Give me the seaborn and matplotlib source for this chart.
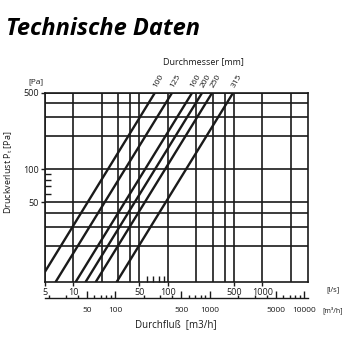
import numpy as np
import pandas as pd
import matplotlib
matplotlib.use("Agg")
import matplotlib.pyplot as plt
import seaborn as sns
from matplotlib.ticker import FixedLocator, FixedFormatter, NullFormatter

# ---- data ----
diameters = ["100", "125", "160", "200", "250", "315"]
flow_low = [5.0, 6.5, 10.6, 13.5, 17.3, 28.8]        # l/s at lower end
pressure_low = [11.6, 9.4, 9.4, 9.4, 9.4, 9.4]       # Pa at lower end
flow_high = [73, 111, 181, 231, 295, 492]            # l/s at 500 Pa
pressure_high = [500, 500, 500, 500, 500, 500]       # Pa

flow_major = [5, 10, 20, 30, 40, 50, 100, 200, 300, 400, 500, 1000, 2000]
flow_labels = ["5", "10", "", "", "", "50", "100", "", "", "", "500", "1000", ""]
flow_minor = [60, 70, 80, 90]
pressure_major = [20, 30, 40, 50, 100, 200, 300, 400, 500]
pressure_labels = ["", "", "", "50", "100", "", "", "", "500"]
pressure_minor = [60, 70, 80, 90]
m3h_major = [50, 100, 500, 1000, 5000, 10000]
m3h_labels = ["50", "100", "500", "1000", "5000", "10000"]
m3h_minor = [20, 30, 40, 60, 70, 80, 90, 200, 300, 400, 600, 700, 800, 900,
             2000, 3000, 4000, 6000, 7000, 8000, 9000]

rows = []
for d, f0, p0, f1, p1 in zip(diameters, flow_low, pressure_low, flow_high, pressure_high):
    rows.append({"d": d, "flow": f0, "pressure": p0})
    rows.append({"d": d, "flow": f1, "pressure": p1})
df = pd.DataFrame(rows)

sns.set_style("white")
plt.rcParams["font.family"] = ["Open Sans", "DejaVu Sans"]
ink = "#1a1a1a"

W = H = 350
fig = plt.figure(figsize=(3.5, 3.5), dpi=100)

def fx(px):
    return px / W

def fy(py):
    return 1 - py / H

ax = fig.add_axes([fx(45), fy(281.7), fx(308) - fx(45), fy(92.7) - fy(281.7)])
ax.set_xscale("log")
ax.set_yscale("log")
ax.set_xlim(5, 3050)
ax.set_ylim(9.4, 500)

sns.lineplot(data=df, x="flow", y="pressure", hue="d", units="d",
             palette=[ink] * len(diameters), estimator=None, sort=False,
             legend=False, lw=1.7, ax=ax, clip_on=True)

ax.xaxis.set_major_locator(FixedLocator(flow_major))
ax.xaxis.set_major_formatter(FixedFormatter(flow_labels))
ax.xaxis.set_minor_locator(FixedLocator(flow_minor))
ax.xaxis.set_minor_formatter(NullFormatter())
ax.yaxis.set_major_locator(FixedLocator(pressure_major))
ax.yaxis.set_major_formatter(FixedFormatter(pressure_labels))
ax.yaxis.set_minor_locator(FixedLocator(pressure_minor))
ax.yaxis.set_minor_formatter(NullFormatter())

ax.grid(True, which="major", color=ink, lw=1.2)
ax.tick_params(which="both", bottom=True, left=True, top=False, right=False)
ax.tick_params(which="major", direction="out", length=3, width=1.0, color=ink,
               labelsize=6.5, labelcolor=ink, pad=1.5)
ax.tick_params(which="minor", direction="in", length=4, width=1.0, color=ink)
# outward tick marks only where a label sits
for tick, lab in zip(ax.xaxis.get_major_ticks(), flow_labels):
    if not lab:
        tick.tick1line.set_visible(False)
for tick, lab in zip(ax.yaxis.get_major_ticks(), pressure_labels):
    if not lab:
        tick.tick1line.set_visible(False)
for s in ax.spines.values():
    s.set_color(ink)
    s.set_linewidth(1.2)
ax.set_xlabel("")
ax.set_ylabel("")

# diameter labels at the top ends of the lines
for d, f1, p1 in zip(diameters, flow_high, pressure_high):
    ax.annotate(d, xy=(f1, p1), xytext=(2, 3), textcoords="offset points",
                rotation=60, rotation_mode="anchor", ha="left", va="bottom",
                fontsize=6, color=ink, annotation_clip=False)

# secondary m3/h axis
ax2 = fig.add_axes([fx(45), fy(298.3), fx(308) - fx(45), 0.0005])
ax2.set_xscale("log")
ax2.set_xlim(5 * 3.6, 3050 * 3.6)
for k in ["left", "right", "top"]:
    ax2.spines[k].set_visible(False)
ax2.spines["bottom"].set_color(ink)
ax2.spines["bottom"].set_linewidth(1.0)
ax2.set_yticks([])
ax2.xaxis.set_major_locator(FixedLocator(m3h_major))
ax2.xaxis.set_major_formatter(FixedFormatter(m3h_labels))
ax2.xaxis.set_minor_locator(FixedLocator(m3h_minor))
ax2.xaxis.set_minor_formatter(NullFormatter())
ax2.tick_params(which="both", bottom=True, top=False)
ax2.tick_params(which="major", direction="in", length=5, width=1.0, color=ink,
                labelsize=6, labelcolor=ink, pad=6)
ax2.tick_params(which="minor", direction="in", length=2.5, width=1.0, color=ink)
ax2.patch.set_alpha(0)

# texts
fig.text(fx(6), fy(35), "Technische Daten", fontsize=17, fontweight="bold",
         style="italic", color="black", va="baseline", ha="left")
fig.text(fx(203), fy(62), "Durchmesser [mm]", fontsize=6.5, color=ink,
         ha="center", va="center")
fig.text(fx(36), fy(82), "[Pa]", fontsize=6, color=ink, ha="center", va="center")
fig.text(fx(9), fy(172), "Druckverlust P$_\\mathregular{t}$ [Pa]", fontsize=6.5,
         color=ink, rotation=90, ha="center", va="center")
fig.text(fx(333), fy(290), "[l/s]", fontsize=5.5, color=ink, ha="center", va="center")
fig.text(fx(333), fy(310), "[m\u00b3/h]", fontsize=5, color=ink, ha="center", va="center")
fig.text(fx(176), fy(325), "Durchflu\u00df  [m3/h]", fontsize=7, color=ink,
         ha="center", va="center")

fig.savefig("out.png", dpi=100)
